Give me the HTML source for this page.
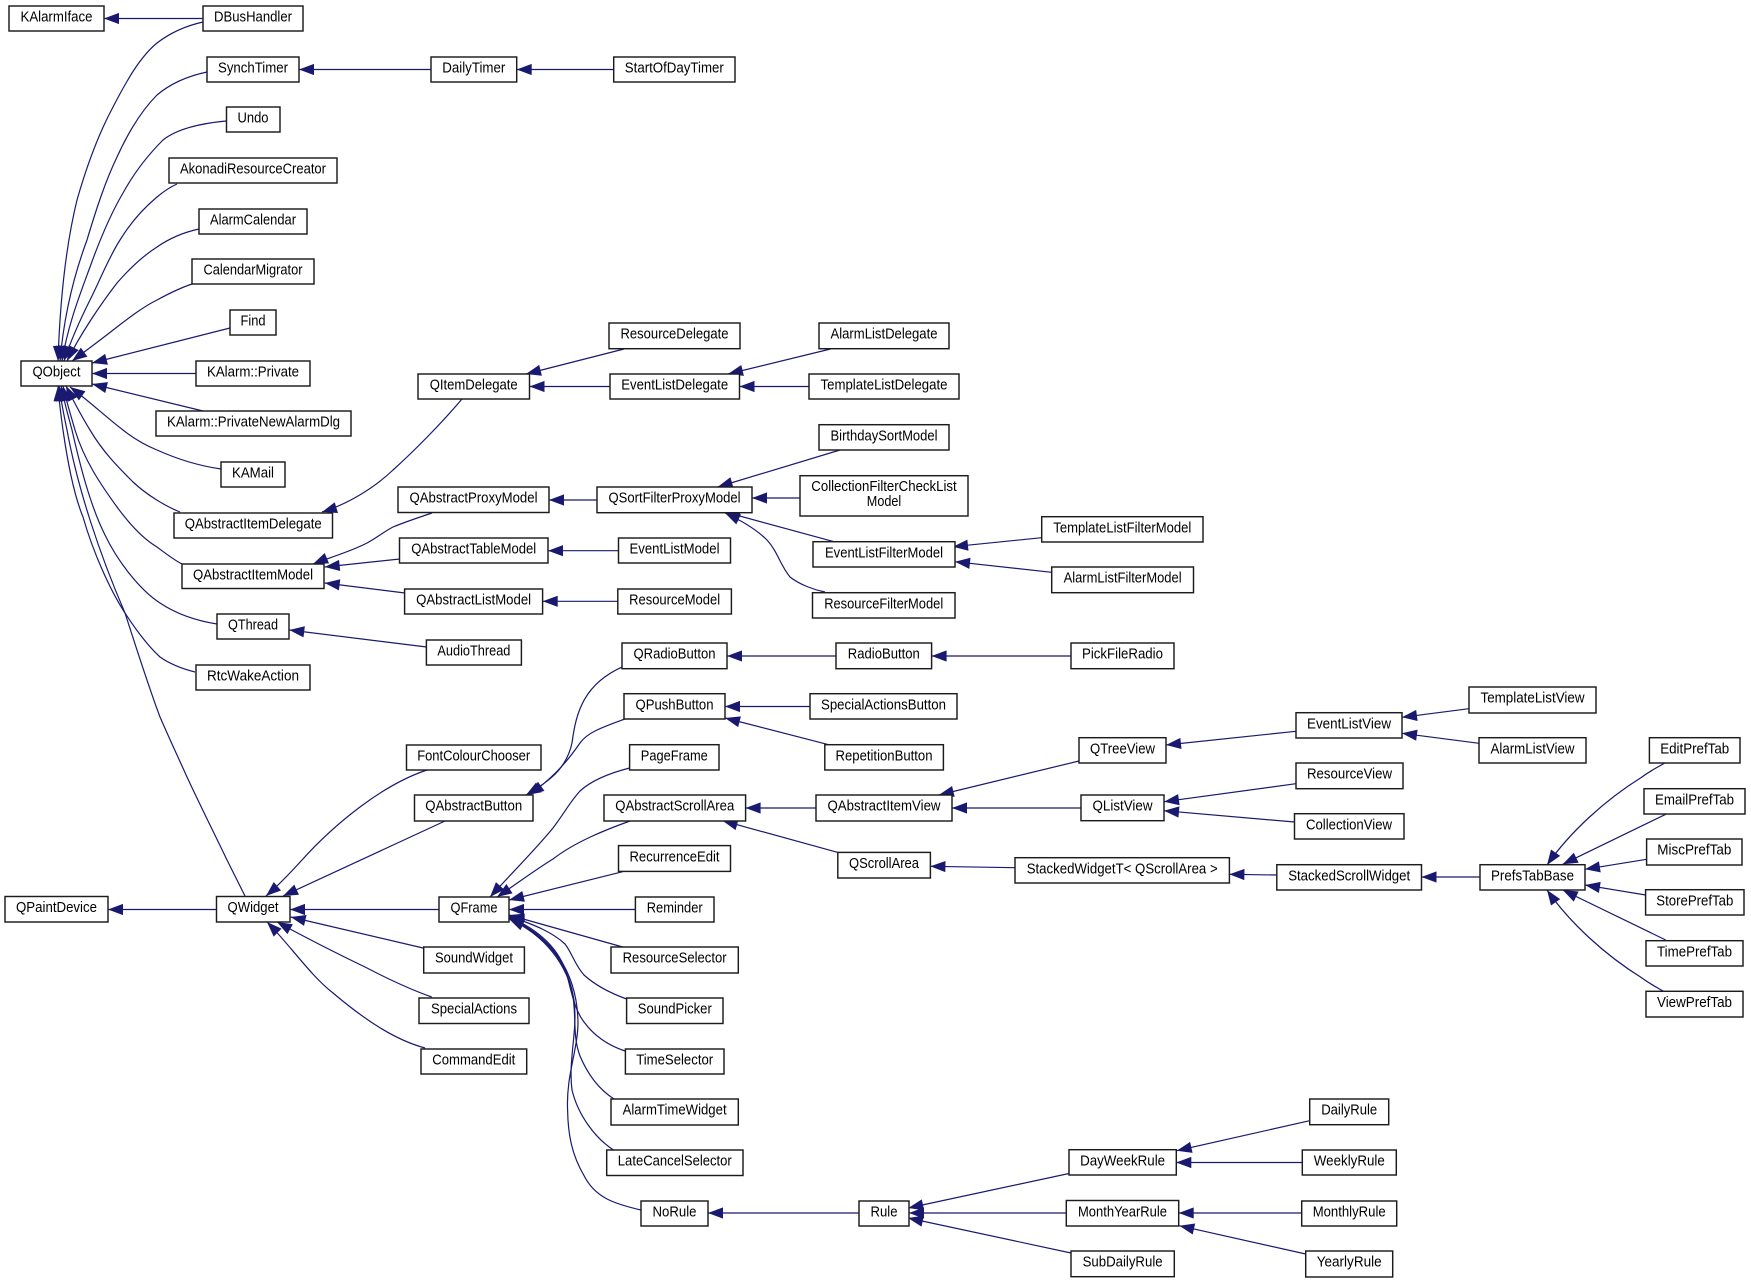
<!DOCTYPE html>
<html><head><meta charset="utf-8"><title>Class hierarchy</title>
<style>
html,body{margin:0;padding:0;background:#fff}
svg{display:block}
rect{fill:#fff;stroke:#1c1c1c;stroke-width:1.45}
text{font-family:"Liberation Sans",Arial,sans-serif;font-size:14.4px;fill:#000;text-anchor:middle;transform:translate(0,-0.7px)}
path.e{fill:none;stroke:#191970;stroke-width:1.2;marker-start:url(#a)}
</style></head><body>
<svg xmlns="http://www.w3.org/2000/svg" width="1751" height="1283" viewBox="0 0 1751 1283">
<defs><marker id="a" markerUnits="userSpaceOnUse" markerWidth="16" markerHeight="12" viewBox="0 0 16 12" refX="0" refY="6" orient="auto"><polygon points="0,6 15,0.4 15,11.6" fill="#191970"/></marker></defs>
<rect x="0" y="0" width="1751" height="1283" style="fill:#fff;stroke:none"/>
<!-- edges -->
<path class="e" d="M104 18.5L203 18.5"/>
<path class="e" d="M58 361C60 300 66 245 77 200C87 165 98 135 113 107C127 80 140 57 157 43C170 33 185 26 203 22"/>
<path class="e" d="M60 361C64 315 74 275 87 240C96 210 105 182 117 157C128 133 142 110 157 95C170 84 188 76 207 72"/>
<path class="e" d="M62 361C68 325 79 297 90 267C99 242 110 215 123 193C134 173 148 155 163 140C178 128 205 123 226 121"/>
<path class="e" d="M64 361C71 340 80 320 90 300C100 280 109 257 120 240C131 222 145 207 157 197C163 192 170 187 177 184"/>
<path class="e" d="M67 361C80 335 100 305 117 283C130 268 143 256 157 247C170 238 185 232 199 229"/>
<path class="e" d="M72 361C87 350 103 338 117 327C130 317 143 307 157 300C168 294 180 288 192 284"/>
<path class="e" d="M92 363L230 328"/>
<path class="e" d="M92 373.5L196 373.5"/>
<path class="e" d="M92 384L203 411"/>
<path class="e" d="M70 387C88 400 107 418 123 430C133 438 145 445 157 450C177 459 200 466 221 469"/>
<path class="e" d="M66 386C73 400 82 417 90 430C103 452 118 467 133 482C147 495 165 506 180 512"/>
<path class="e" d="M63 386C66 400 71 416 75 430C84 460 101 485 117 507C128 522 142 538 157 547C165 553 174 560 182 564"/>
<path class="e" d="M61 386C64 400 68 416 72 430C80 465 90 505 105 535C118 562 140 590 160 603C178 615 198 621 217 624"/>
<path class="e" d="M58 386C59 400 61 416 63 430C68 465 74 495 83 517C93 552 110 590 125 613C136 630 148 646 160 657C170 664 183 669 195 672"/>
<path class="e" d="M59 386C61 400 64 416 67 430C78 490 100 555 125 613C137 650 148 685 160 717C170 740 178 757 187 777C200 805 215 835 227 860L245 896"/>
<path class="e" d="M299 69.5L431 69.5"/>
<path class="e" d="M516.7 69.5L613.7 69.5"/>
<path class="e" d="M322 512C345 505 372 490 393 470C413 452 440 425 462 399"/>
<path class="e" d="M526 374L624 349"/>
<path class="e" d="M529.5 386.5L610 386.5"/>
<path class="e" d="M728 374L830.5 349"/>
<path class="e" d="M739.5 386.5L809 386.5"/>
<path class="e" d="M549 500L597 500"/>
<path class="e" d="M717.6 487L840 450"/>
<path class="e" d="M752 498L800 498"/>
<path class="e" d="M725 512L834 541.7"/>
<path class="e" d="M725 513C738 519 755 528 767 540C778 552 780 565 790 577C800 585 815 590 825 592"/>
<path class="e" d="M313 564C325 559 350 552 367 543C378 537 385 531 393 527C405 522 420 517 432 513"/>
<path class="e" d="M324.7 567L399.7 559"/>
<path class="e" d="M324.7 583L405 593"/>
<path class="e" d="M548 550.7L618.5 550.7"/>
<path class="e" d="M542.7 601.3L617.8 601.3"/>
<path class="e" d="M289.3 630L426.7 647"/>
<path class="e" d="M953 546.7L1041.7 537.7"/>
<path class="e" d="M955 561.7L1051.7 572.3"/>
<path class="e" d="M727 656L836 656"/>
<path class="e" d="M931.6 656L1071 656"/>
<path class="e" d="M725 706.5L810 706.5"/>
<path class="e" d="M725 718L828.6 744.7"/>
<path class="e" d="M526 795C548 782 566 770 572 743C576 712 584 684 622.7 666.7"/>
<path class="e" d="M529 795C550 780 565 765 580 743C588 732 603 727 624.7 719"/>
<path class="e" d="M266 896C280 884 292 871 302 860C320 840 340 822 360 807C380 792 403 778 427 770"/>
<path class="e" d="M283 896L445 821"/>
<path class="e" d="M290 909.5L439 909.5"/>
<path class="e" d="M290.7 917L423 948"/>
<path class="e" d="M277 922C310 940 340 955 367 968C390 980 412 990 431.7 997"/>
<path class="e" d="M267 922C290 945 310 975 333 993C365 1020 395 1040 425 1048"/>
<path class="e" d="M108 909.5L216.5 909.5"/>
<path class="e" d="M490 897C510 875 535 850 553 828C565 812 570 802 580 791C592 780 610 773 629.6 768"/>
<path class="e" d="M497 897C515 885 535 870 553 859C575 842 605 830 630 821"/>
<path class="e" d="M509 900L622.7 871.7"/>
<path class="e" d="M509 909.5L635.4 909.5"/>
<path class="e" d="M509 915L622.7 947"/>
<path class="e" d="M509 916C535 925 552 932 565 944C572 953 575 965 584 975C595 985 610 993 626.6 999"/>
<path class="e" d="M509 917C540 930 560 950 567 975C572 995 575 1010 584 1022C595 1037 610 1046 625 1051"/>
<path class="e" d="M509 918C545 935 565 960 572 990C577 1015 572 1035 580 1056C588 1075 600 1090 614 1099"/>
<path class="e" d="M509 919C545 935 568 965 574 1000C578 1030 568 1060 572 1090C578 1115 595 1138 613.5 1150"/>
<path class="e" d="M509 918C550 935 577 970 578 1022C578 1050 566 1075 567.6 1110C568 1135 572 1155 583.7 1175C595 1198 615 1204 641 1210"/>
<path class="e" d="M708 1213L859 1213"/>
<path class="e" d="M908.3 1208L1069 1173.5"/>
<path class="e" d="M909 1213L1066.3 1213"/>
<path class="e" d="M908 1218L1071 1253"/>
<path class="e" d="M1176.7 1150.7L1309.7 1120.7"/>
<path class="e" d="M1176.3 1162.5L1302.3 1162.5"/>
<path class="e" d="M1178.7 1213L1301.7 1213"/>
<path class="e" d="M1179.3 1225.7L1305.7 1254"/>
<path class="e" d="M745.6 808L816 808"/>
<path class="e" d="M722.6 820.7L837.8 852.4"/>
<path class="e" d="M938.8 795L1079 761"/>
<path class="e" d="M952 808L1081 808"/>
<path class="e" d="M930.4 866.3L1015 867.7"/>
<path class="e" d="M1229.4 874.3L1276.8 875"/>
<path class="e" d="M1421.5 877L1480 877"/>
<path class="e" d="M1166 745L1296 731.3"/>
<path class="e" d="M1402 717.3L1469 708.7"/>
<path class="e" d="M1402 733.3L1479 743.3"/>
<path class="e" d="M1164 801.7L1296 783.7"/>
<path class="e" d="M1164 810.7L1294.5 822"/>
<path class="e" d="M1547 865C1570 832 1605 800 1642 777C1650 771 1658 767 1664.7 763"/>
<path class="e" d="M1562.7 864.3L1665.7 814.3"/>
<path class="e" d="M1585 869.3L1646.6 859.3"/>
<path class="e" d="M1585 885L1645.6 895"/>
<path class="e" d="M1562.7 890L1665.7 940"/>
<path class="e" d="M1547 890C1570 923 1605 955 1642 978C1650 984 1658 988 1664.7 992"/>
<!-- nodes -->
<rect x="9" y="6" width="95" height="25"/><text x="56.5" y="22.3" textLength="72" lengthAdjust="spacingAndGlyphs">KAlarmIface</text>
<rect x="203" y="6" width="100" height="25"/><text x="253" y="22.3" textLength="78" lengthAdjust="spacingAndGlyphs">DBusHandler</text>
<rect x="207" y="57" width="92" height="25"/><text x="253" y="73.3" textLength="70" lengthAdjust="spacingAndGlyphs">SynchTimer</text>
<rect x="226.5" y="107" width="53.5" height="25"/><text x="253" y="123.3" textLength="31" lengthAdjust="spacingAndGlyphs">Undo</text>
<rect x="169" y="158" width="168" height="25"/><text x="253" y="174.3" textLength="146" lengthAdjust="spacingAndGlyphs">AkonadiResourceCreator</text>
<rect x="199" y="209" width="108" height="25"/><text x="253" y="225.3" textLength="86" lengthAdjust="spacingAndGlyphs">AlarmCalendar</text>
<rect x="192" y="259" width="122" height="25"/><text x="253" y="275.3" textLength="99" lengthAdjust="spacingAndGlyphs">CalendarMigrator</text>
<rect x="230" y="310" width="46" height="25"/><text x="253" y="326.3" textLength="25" lengthAdjust="spacingAndGlyphs">Find</text>
<rect x="196" y="361" width="114" height="25"/><text x="253" y="377.3" textLength="92" lengthAdjust="spacingAndGlyphs">KAlarm::Private</text>
<rect x="21" y="361" width="71" height="25"/><text x="56.5" y="377.3" textLength="48" lengthAdjust="spacingAndGlyphs">QObject</text>
<rect x="156" y="411" width="195" height="25"/><text x="253.5" y="427.3" textLength="173" lengthAdjust="spacingAndGlyphs">KAlarm::PrivateNewAlarmDlg</text>
<rect x="221" y="462" width="64" height="25"/><text x="253" y="478.3" textLength="42" lengthAdjust="spacingAndGlyphs">KAMail</text>
<rect x="174" y="513" width="158.5" height="25"/><text x="253.2" y="529.3" textLength="137" lengthAdjust="spacingAndGlyphs">QAbstractItemDelegate</text>
<rect x="182" y="564" width="142" height="24.5"/><text x="253" y="580" textLength="120" lengthAdjust="spacingAndGlyphs">QAbstractItemModel</text>
<rect x="217" y="614" width="72" height="25"/><text x="253" y="630.3" textLength="50" lengthAdjust="spacingAndGlyphs">QThread</text>
<rect x="196" y="665" width="114" height="25"/><text x="253" y="681.3" textLength="92" lengthAdjust="spacingAndGlyphs">RtcWakeAction</text>
<rect x="418" y="374" width="111.5" height="25"/><text x="473.7" y="390.3" textLength="88" lengthAdjust="spacingAndGlyphs">QItemDelegate</text>
<rect x="398" y="487" width="151" height="25.5"/><text x="473.5" y="503.3" textLength="128" lengthAdjust="spacingAndGlyphs">QAbstractProxyModel</text>
<rect x="399.5" y="538" width="148.5" height="25"/><text x="473.7" y="554.3" textLength="125" lengthAdjust="spacingAndGlyphs">QAbstractTableModel</text>
<rect x="404.6" y="589" width="138" height="25"/><text x="473.6" y="605.3" textLength="115" lengthAdjust="spacingAndGlyphs">QAbstractListModel</text>
<rect x="426.4" y="640" width="95" height="25"/><text x="473.9" y="656.3" textLength="73" lengthAdjust="spacingAndGlyphs">AudioThread</text>
<rect x="406.5" y="745" width="134.5" height="25"/><text x="473.7" y="761.3" textLength="113" lengthAdjust="spacingAndGlyphs">FontColourChooser</text>
<rect x="414.5" y="795" width="118.5" height="26"/><text x="473.7" y="811.3" textLength="97" lengthAdjust="spacingAndGlyphs">QAbstractButton</text>
<rect x="5" y="896.5" width="103" height="25.5"/><text x="56.5" y="912.8" textLength="81" lengthAdjust="spacingAndGlyphs">QPaintDevice</text>
<rect x="216.5" y="896.5" width="73.5" height="25.5"/><text x="253" y="912.8" textLength="51" lengthAdjust="spacingAndGlyphs">QWidget</text>
<rect x="439" y="897" width="70" height="25"/><text x="474" y="913.3" textLength="47" lengthAdjust="spacingAndGlyphs">QFrame</text>
<rect x="423.7" y="947" width="100.7" height="26"/><text x="474" y="963.3" textLength="78" lengthAdjust="spacingAndGlyphs">SoundWidget</text>
<rect x="419" y="998" width="110" height="25.5"/><text x="474" y="1014.3" textLength="86" lengthAdjust="spacingAndGlyphs">SpecialActions</text>
<rect x="421" y="1049" width="105.7" height="25"/><text x="473.8" y="1065.3" textLength="83" lengthAdjust="spacingAndGlyphs">CommandEdit</text>
<rect x="431" y="57" width="85.7" height="25"/><text x="473.8" y="73.3" textLength="63" lengthAdjust="spacingAndGlyphs">DailyTimer</text>
<rect x="613.7" y="57" width="121.3" height="25"/><text x="674.3" y="73.3" textLength="99" lengthAdjust="spacingAndGlyphs">StartOfDayTimer</text>
<rect x="609" y="323" width="131" height="25.7"/><text x="674.5" y="339.3" textLength="108" lengthAdjust="spacingAndGlyphs">ResourceDelegate</text>
<rect x="610" y="374" width="129.5" height="25"/><text x="674.7" y="390.3" textLength="107" lengthAdjust="spacingAndGlyphs">EventListDelegate</text>
<rect x="819" y="323" width="130" height="25.7"/><text x="884" y="339.3" textLength="107" lengthAdjust="spacingAndGlyphs">AlarmListDelegate</text>
<rect x="809" y="374" width="150" height="25"/><text x="884" y="390.3" textLength="127" lengthAdjust="spacingAndGlyphs">TemplateListDelegate</text>
<rect x="819" y="424.7" width="130" height="25.3"/><text x="884" y="441" textLength="107" lengthAdjust="spacingAndGlyphs">BirthdaySortModel</text>
<rect x="800" y="475.7" width="168" height="40.3"/><text x="884" y="491.7" textLength="145.4" lengthAdjust="spacingAndGlyphs">CollectionFilterCheckList</text><text x="884" y="506.7" textLength="34.4" lengthAdjust="spacingAndGlyphs">Model</text>
<rect x="597" y="487" width="155" height="25.7"/><text x="674.5" y="503.3" textLength="132" lengthAdjust="spacingAndGlyphs">QSortFilterProxyModel</text>
<rect x="618.5" y="538" width="112" height="25"/><text x="674.5" y="554.3" textLength="90" lengthAdjust="spacingAndGlyphs">EventListModel</text>
<rect x="813" y="541.7" width="142" height="25.3"/><text x="884" y="558" textLength="118" lengthAdjust="spacingAndGlyphs">EventListFilterModel</text>
<rect x="812.5" y="592.7" width="142.5" height="25.3"/><text x="883.7" y="609" textLength="119" lengthAdjust="spacingAndGlyphs">ResourceFilterModel</text>
<rect x="617.8" y="589" width="113.6" height="25"/><text x="674.6" y="605.3" textLength="91" lengthAdjust="spacingAndGlyphs">ResourceModel</text>
<rect x="622" y="643" width="105" height="25.7"/><text x="674.5" y="659.3" textLength="82" lengthAdjust="spacingAndGlyphs">QRadioButton</text>
<rect x="836" y="643" width="95.6" height="25.7"/><text x="883.8" y="659.3" textLength="72" lengthAdjust="spacingAndGlyphs">RadioButton</text>
<rect x="624" y="693.7" width="101" height="25.3"/><text x="674.5" y="710" textLength="78" lengthAdjust="spacingAndGlyphs">QPushButton</text>
<rect x="810" y="693.7" width="147" height="25.3"/><text x="883.5" y="710" textLength="125" lengthAdjust="spacingAndGlyphs">SpecialActionsButton</text>
<rect x="629.6" y="744.7" width="89.4" height="25.3"/><text x="674.3" y="761" textLength="67" lengthAdjust="spacingAndGlyphs">PageFrame</text>
<rect x="824.8" y="744.7" width="118.6" height="25.3"/><text x="884" y="761" textLength="97" lengthAdjust="spacingAndGlyphs">RepetitionButton</text>
<rect x="604" y="795" width="141.6" height="26"/><text x="674.8" y="811.3" textLength="119" lengthAdjust="spacingAndGlyphs">QAbstractScrollArea</text>
<rect x="816" y="795" width="136" height="26"/><text x="884" y="811.3" textLength="113" lengthAdjust="spacingAndGlyphs">QAbstractItemView</text>
<rect x="618.5" y="845.6" width="112" height="25.8"/><text x="674.5" y="862" textLength="90" lengthAdjust="spacingAndGlyphs">RecurrenceEdit</text>
<rect x="837.8" y="852.4" width="92.6" height="25.6"/><text x="884" y="868.7" textLength="70" lengthAdjust="spacingAndGlyphs">QScrollArea</text>
<rect x="635.4" y="897" width="78.6" height="25"/><text x="674.7" y="913.3" textLength="56" lengthAdjust="spacingAndGlyphs">Reminder</text>
<rect x="611" y="947" width="127.3" height="26"/><text x="674.6" y="963.3" textLength="104" lengthAdjust="spacingAndGlyphs">ResourceSelector</text>
<rect x="626.6" y="998" width="96.4" height="25.5"/><text x="674.8" y="1014.3" textLength="74" lengthAdjust="spacingAndGlyphs">SoundPicker</text>
<rect x="625.4" y="1049" width="98.6" height="25"/><text x="674.7" y="1065.3" textLength="77" lengthAdjust="spacingAndGlyphs">TimeSelector</text>
<rect x="611" y="1099" width="127.3" height="26"/><text x="674.6" y="1115.3" textLength="104" lengthAdjust="spacingAndGlyphs">AlarmTimeWidget</text>
<rect x="606.7" y="1150" width="136.3" height="25.5"/><text x="674.8" y="1166.3" textLength="114" lengthAdjust="spacingAndGlyphs">LateCancelSelector</text>
<rect x="641" y="1201" width="67" height="25"/><text x="674.5" y="1217.3" textLength="44" lengthAdjust="spacingAndGlyphs">NoRule</text>
<rect x="859" y="1201" width="50" height="25"/><text x="884" y="1217.3" textLength="27" lengthAdjust="spacingAndGlyphs">Rule</text>
<rect x="1041.7" y="516.7" width="161.3" height="25.3"/><text x="1122.3" y="533" textLength="138" lengthAdjust="spacingAndGlyphs">TemplateListFilterModel</text>
<rect x="1051.7" y="567" width="141.8" height="25.7"/><text x="1122.6" y="583.3" textLength="118" lengthAdjust="spacingAndGlyphs">AlarmListFilterModel</text>
<rect x="1071" y="643" width="103" height="25.7"/><text x="1122.5" y="659.3" textLength="81" lengthAdjust="spacingAndGlyphs">PickFileRadio</text>
<rect x="1469" y="687" width="127" height="26"/><text x="1532.5" y="703.3" textLength="104" lengthAdjust="spacingAndGlyphs">TemplateListView</text>
<rect x="1296" y="712.7" width="106" height="25.3"/><text x="1349" y="729" textLength="84" lengthAdjust="spacingAndGlyphs">EventListView</text>
<rect x="1479" y="737.7" width="107" height="25.3"/><text x="1532.5" y="754" textLength="84" lengthAdjust="spacingAndGlyphs">AlarmListView</text>
<rect x="1079" y="737.7" width="87" height="25.3"/><text x="1122.5" y="754" textLength="65" lengthAdjust="spacingAndGlyphs">QTreeView</text>
<rect x="1296" y="763" width="107" height="25.7"/><text x="1349.5" y="779.3" textLength="85" lengthAdjust="spacingAndGlyphs">ResourceView</text>
<rect x="1649.4" y="737.7" width="90.6" height="25.3"/><text x="1694.7" y="754" textLength="69" lengthAdjust="spacingAndGlyphs">EditPrefTab</text>
<rect x="1644" y="788.7" width="101" height="25.3"/><text x="1694.5" y="805" textLength="79" lengthAdjust="spacingAndGlyphs">EmailPrefTab</text>
<rect x="1081" y="795" width="83" height="25.7"/><text x="1122.5" y="811.3" textLength="60" lengthAdjust="spacingAndGlyphs">QListView</text>
<rect x="1646.6" y="839" width="95.4" height="26"/><text x="1694.3" y="855.3" textLength="74" lengthAdjust="spacingAndGlyphs">MiscPrefTab</text>
<rect x="1294.5" y="813.7" width="109.5" height="25.3"/><text x="1349" y="830" textLength="86" lengthAdjust="spacingAndGlyphs">CollectionView</text>
<rect x="1015" y="857.7" width="214.4" height="25.3"/><text x="1122.2" y="874" textLength="191" lengthAdjust="spacingAndGlyphs">StackedWidgetT&lt; QScrollArea &gt;</text>
<rect x="1276.8" y="864.7" width="144.7" height="25.3"/><text x="1349.2" y="881" textLength="122" lengthAdjust="spacingAndGlyphs">StackedScrollWidget</text>
<rect x="1480" y="864.7" width="105" height="25.3"/><text x="1532.5" y="881" textLength="83" lengthAdjust="spacingAndGlyphs">PrefsTabBase</text>
<rect x="1645.6" y="889.7" width="98.4" height="25.3"/><text x="1694.8" y="906" textLength="77" lengthAdjust="spacingAndGlyphs">StorePrefTab</text>
<rect x="1646" y="940.7" width="97" height="25.3"/><text x="1694.5" y="957" textLength="75" lengthAdjust="spacingAndGlyphs">TimePrefTab</text>
<rect x="1646" y="991.3" width="97" height="25.7"/><text x="1694.5" y="1007.6" textLength="75" lengthAdjust="spacingAndGlyphs">ViewPrefTab</text>
<rect x="1309.7" y="1099" width="79" height="25.7"/><text x="1349.2" y="1115.3" textLength="56" lengthAdjust="spacingAndGlyphs">DailyRule</text>
<rect x="1069" y="1149.7" width="107.3" height="25.3"/><text x="1122.6" y="1166" textLength="85" lengthAdjust="spacingAndGlyphs">DayWeekRule</text>
<rect x="1302.3" y="1150" width="94" height="25"/><text x="1349.3" y="1166.3" textLength="71" lengthAdjust="spacingAndGlyphs">WeeklyRule</text>
<rect x="1066.3" y="1200.5" width="112.4" height="25.5"/><text x="1122.5" y="1217" textLength="89" lengthAdjust="spacingAndGlyphs">MonthYearRule</text>
<rect x="1301.7" y="1201" width="95" height="25"/><text x="1349.2" y="1217.3" textLength="73" lengthAdjust="spacingAndGlyphs">MonthlyRule</text>
<rect x="1071" y="1251" width="103.3" height="25.7"/><text x="1122.6" y="1267.3" textLength="80" lengthAdjust="spacingAndGlyphs">SubDailyRule</text>
<rect x="1305.7" y="1251" width="87" height="26"/><text x="1349.2" y="1267.3" textLength="65" lengthAdjust="spacingAndGlyphs">YearlyRule</text>
</svg>
</body></html>
